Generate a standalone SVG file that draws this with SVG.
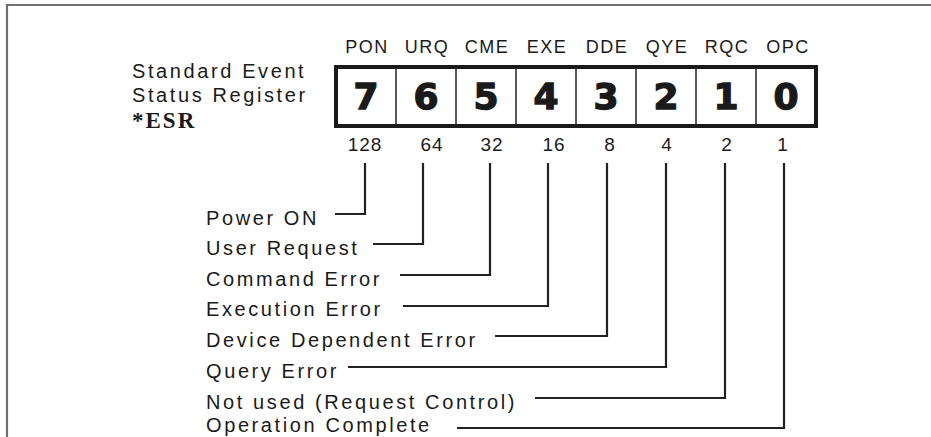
<svg xmlns="http://www.w3.org/2000/svg" width="931" height="437" viewBox="0 0 931 437">
<style>
.t{font-family:"Liberation Sans",Arial,sans-serif;fill:#1a1a1a}
.hd{font-size:18px;letter-spacing:1.5px;text-anchor:middle}
.lb{font-size:20px;letter-spacing:2.6px}
.num{font-size:19px;letter-spacing:1px;text-anchor:middle}
.dg{font-family:"DejaVu Sans",sans-serif;font-weight:bold;font-size:36px;text-anchor:middle;fill:#1a1a1a;stroke:#1a1a1a;stroke-width:1.4}
.ln{fill:none;stroke:#222;stroke-width:2.2}
.dv{stroke:#222;stroke-width:1.5}
</style>
<g id="frame">
<path d="M7,437 V5 H931" fill="none" stroke="#6f6f6f" stroke-width="2.2"/>
</g>
<g id="title">
<text class="t lb" x="132" y="78">Standard Event</text>
<text class="t lb" x="132" y="102">Status Register</text>
<text x="132" y="128" style="font-family:'Liberation Serif','Times New Roman',serif;font-weight:bold;font-size:23px;fill:#1a1a1a;letter-spacing:2px">*ESR</text>
</g>
<g id="register">
<rect x="336" y="67" width="480" height="59" fill="#fff" stroke="#1a1a1a" stroke-width="4"/>
<line class="dv" x1="396" y1="67" x2="396" y2="126"/>
<line class="dv" x1="456" y1="67" x2="456" y2="126"/>
<line class="dv" x1="516" y1="67" x2="516" y2="126"/>
<line class="dv" x1="576" y1="67" x2="576" y2="126"/>
<line class="dv" x1="636" y1="67" x2="636" y2="126"/>
<line class="dv" x1="696" y1="67" x2="696" y2="126"/>
<line class="dv" x1="756" y1="67" x2="756" y2="126"/>
<text class="dg" x="366" y="109">7</text>
<text class="dg" x="426" y="109">6</text>
<text class="dg" x="486" y="109">5</text>
<text class="dg" x="546" y="109">4</text>
<text class="dg" x="606" y="109">3</text>
<text class="dg" x="666" y="109">2</text>
<text class="dg" x="726" y="109">1</text>
<text class="dg" x="786" y="109">0</text>
</g>
<g id="headers">
<text class="t hd" x="367" y="53">PON</text>
<text class="t hd" x="427" y="53">URQ</text>
<text class="t hd" x="487" y="53">CME</text>
<text class="t hd" x="547" y="53">EXE</text>
<text class="t hd" x="607" y="53">DDE</text>
<text class="t hd" x="667" y="53">QYE</text>
<text class="t hd" x="727" y="53">RQC</text>
<text class="t hd" x="788" y="53">OPC</text>
</g>
<g id="weights">
<text class="t num" x="365" y="151">128</text>
<text class="t num" x="432" y="151">64</text>
<text class="t num" x="492" y="151">32</text>
<text class="t num" x="554" y="151">16</text>
<text class="t num" x="610" y="151">8</text>
<text class="t num" x="667" y="151">4</text>
<text class="t num" x="727" y="151">2</text>
<text class="t num" x="783" y="151">1</text>
</g>
<g id="labels">
<text class="t lb" x="206" y="225">Power ON</text>
<text class="t lb" x="206" y="255">User Request</text>
<text class="t lb" x="206" y="286">Command Error</text>
<text class="t lb" x="206" y="316">Execution Error</text>
<text class="t lb" x="206" y="347">Device Dependent Error</text>
<text class="t lb" x="206" y="378">Query Error</text>
<text class="t lb" x="206" y="409">Not used (Request Control)</text>
<text class="t lb" x="206" y="432">Operation Complete</text>
</g>
<g id="connectors">
<path class="ln" d="M335,214 H365 V163"/>
<path class="ln" d="M373,244 H423 V163"/>
<path class="ln" d="M400,275 H490 V163"/>
<path class="ln" d="M403,306 H548 V163"/>
<path class="ln" d="M495,336 H607 V163"/>
<path class="ln" d="M348,367 H666 V163"/>
<path class="ln" d="M535,398 H725 V163"/>
<path class="ln" d="M457,428 H784 V163"/>
</g>
</svg>
